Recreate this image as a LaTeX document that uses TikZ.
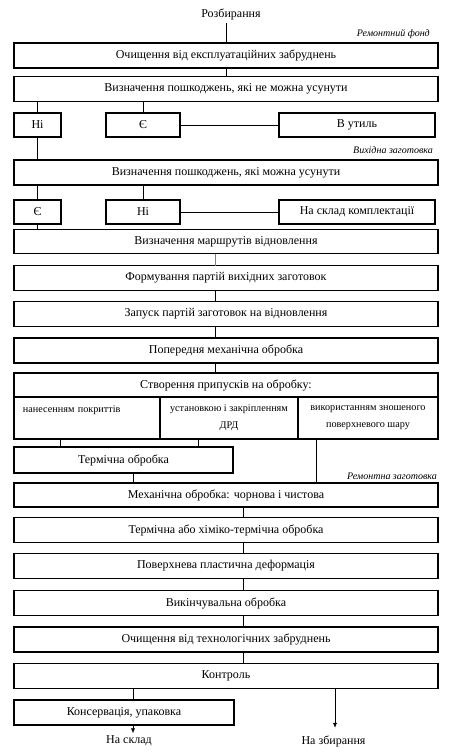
\documentclass[tikz,border=0pt]{standalone}
\usepackage{fontspec}
\setmainfont{Liberation Serif}
\usetikzlibrary{positioning,arrows.meta}

\begin{document}
\begin{tikzpicture}[x=1pt, y=1pt,
  block/.style={rectangle, draw, line width=1.5pt, outer sep=0pt, minimum width=424pt, minimum height=25pt, inner sep=0pt, font=\fontsize{12}{14}\selectfont},
  choice/.style={rectangle, draw, line width=1.5pt, outer sep=0pt, minimum height=24pt, inner sep=0pt, font=\fontsize{12}{14}\selectfont},
  part/.style={rectangle, draw, line width=1.5pt, outer sep=0pt, minimum height=42pt, inner sep=0pt, anchor=north west, font=\fontsize{10.2}{17}\selectfont},
  tag/.style={anchor=east, inner sep=0pt, font=\itshape\fontsize{10}{11}\selectfont},
  link/.style={line width=0.6pt},
  font=\fontsize{12}{14}\selectfont
]
\useasboundingbox (0,0) rectangle (458,-755);

\node (start) at (231,-14) {Розбирання};
\node[tag] at (430,-34) {Ремонтний фонд};
\node[block] (clean) at (226,-55.5) {Очищення від експлуатаційних забруднень};
\node[block, below of=clean, node distance=33.5pt] (fatal) {Визначення пошкоджень, які не можна усунути};

\node[choice, minimum width=47pt] (no1) at (37.5,-125) {Ні};
\node[choice, minimum width=74pt] (yes1) at (143,-125) {Є};
\node[choice, minimum width=156pt] (scrap) at (357,-125) {В утиль};

\node[tag] at (433,-150) {Вихідна заготовка};
\node[block] (repair) at (226,-172.5) {Визначення пошкоджень, які можна усунути};

\node[choice, minimum width=47pt] (yes2) at (37.5,-212) {Є};
\node[choice, minimum width=74pt] (no2) at (143,-212) {Ні};
\node[choice, minimum width=156pt] (store) at (357,-212) {На склад комплектації};

\node[block, minimum height=24pt] (route) at (226,-241.5) {Визначення маршрутів відновлення};
\node[block, below of=route, node distance=36.5pt] (batch) {Формування партій вихідних заготовок};
\node[block, below of=batch, node distance=36pt] (launch) {Запуск партій заготовок на відновлення};
\node[block, below of=launch, node distance=36.5pt] (pre) {Попередня механічна обробка};

\node[block, minimum height=24pt] (allow) at (226,-385) {Створення припусків на обробку:};
\node[part, minimum width=146pt, align=left, text width=128pt] (coat) at (allow.south west) {нанесенням покриттів\\\mbox{}};
\node[part, minimum width=138pt, align=center] (fix) at (coat.north east) {установкою і закріпленням\\ДРД};
\node[part, minimum width=140pt, align=center] (worn) at (fix.north east) {використанням зношеного\\поверхневого шару};

\node[choice, minimum width=219pt, minimum height=26pt] (heat) at (123.5,-460) {Термічна обробка};
\node[tag] at (437,-476) {Ремонтна заготовка};

\node[block, minimum height=24pt] (mech) at (226,-495) {Механічна обробка: чорнова і чистова};
\node[block, below of=mech, node distance=35pt] (chem) {Термічна або хіміко-термічна обробка};
\node[block, below of=chem, node distance=36pt] (plast) {Поверхнева пластична деформація};
\node[block, below of=plast, node distance=37pt] (finish) {Викінчувальна обробка};
\node[block, below of=finish, node distance=36.5pt] (wash) {Очищення від технологічних забруднень};
\node[block, below of=wash, node distance=36.5pt] (check) {Контроль};

\node[choice, minimum width=220pt, minimum height=25pt] (pack) at (124,-712.5) {Консервація, упаковка};
\node (depot) at (129,-741) {На склад};
\node (assembly) at (333.5,-741) {На збирання};

% connectors
\draw[link] (start.south -| clean.north) -- (clean.north);
\draw[link] (clean) -- (fatal);
\draw[link] (fatal.south -| no1.north) -- (no1.north);
\draw[link] (fatal.south -| yes1.north) -- (yes1.north);
\draw[link] (yes1) -- (scrap);
\draw[link] (no1.south) -- (repair.north -| no1.south);
\draw[link] (repair.south -| yes2.north) -- (yes2.north);
\draw[link] (repair.south -| no2.north) -- (no2.north);
\draw[link] (no2) -- (store);
\draw[link] (yes2.south) -- (route.north -| yes2.south);
\draw[link, gray] (route.south -| 215,0) -- (batch.north -| 215,0);
\draw[link] (batch.south -| 215,0) -- (launch.north -| 215,0);
\draw[link] (launch.south -| 215,0) -- (pre.north -| 215,0);
\draw[link] (pre.south -| 215,0) -- (allow.north -| 215,0);
\draw[link] (coat.south -| 60,0) -- (heat.north -| 60,0);
\draw[link] (fix.south -| 198,0) -- (heat.north -| 198,0);
\draw[link] (worn.south -| 316,0) -- (mech.north -| 316,0);
\draw[link] (heat.south -| 133,0) -- (mech.north -| 133,0);
\draw[link] (mech.south -| 243,0) -- (chem.north -| 243,0);
\draw[link] (chem.south -| 243,0) -- (plast.north -| 243,0);
\draw[link] (plast.south -| 243,0) -- (finish.north -| 243,0);
\draw[link] (finish.south -| 243,0) -- (wash.north -| 243,0);
\draw[link] (wash.south -| 243,0) -- (check.north -| 243,0);
\draw[link] (check.south -| 133,0) -- (pack.north -| 133,0);
\draw[link, -{Latex[length=5pt,width=4pt]}] (check.south -| 335,0) -- ([yshift=4pt]assembly.north -| 335,0);
\draw[link, -{Latex[length=5pt,width=4pt]}] (pack.south -| 133,0) -- ([yshift=-1pt]depot.north -| 133,0);
\end{tikzpicture}
\end{document}
